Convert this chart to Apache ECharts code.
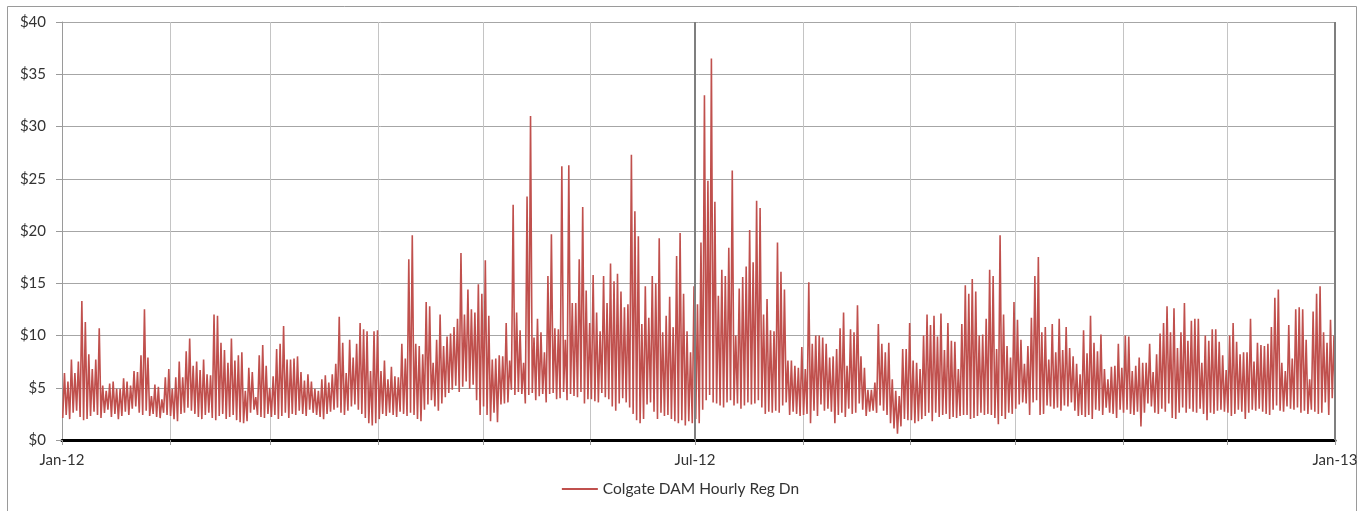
<!DOCTYPE html>
<html>
<head>
<meta charset="utf-8">
<script src="https://cdn.jsdelivr.net/npm/echarts@6/dist/echarts.min.js"></script>
<style>
html,body{margin:0;padding:0;background:#fff;}
#chart{width:1361px;height:511px;}
</style>
</head>
<body>
<div id="chart"></div>
<script>
// ---- Data: daily peak (high) and trough (low) of hourly price, $/MWh, 2012 ----
const hiJan = [6.4,5.6,7.7,6.4,7.5,13.3,11.3,8.2,6.8,7.7,10.7,5.2,4.7,5.4,5.6,4.9,4.9,5.9,5.6,5.2,6.6,6.5,8.1,12.5,7.9,4.2,5.3,5.1,3.9,6.0,6.8];
const loJan = [2.1,2.4,2.0,2.6,2.8,2.2,1.9,2.0,2.3,2.7,2.4,2.1,2.6,2.9,2.2,2.5,2.0,2.3,2.7,2.4,3.0,3.2,2.6,2.4,2.8,2.3,2.5,2.2,2.1,2.6,2.4];
const hiFeb = [4.9,6.0,7.5,6.0,8.5,9.7,7.1,7.5,6.7,7.7,6.3,6.2,12.0,11.9,9.3,8.6,7.4,9.7,7.6,8.1,8.4,4.7,6.9,6.5,4.1,8.1,9.1,7.1,5.0];
const loFeb = [2.3,2.0,1.8,2.5,2.6,3.1,2.8,2.5,2.2,2.0,2.4,2.6,2.1,1.9,2.3,2.5,2.0,2.2,2.4,1.9,1.7,1.6,1.8,2.6,2.9,2.4,2.2,2.1,2.5];
const hiMar = [6.1,8.7,9.2,10.9,7.7,7.7,7.8,8.0,6.5,5.7,6.3,5.6,4.9,4.7,5.8,6.2,5.5,6.3,7.3,11.8,9.3,6.4,9.6,7.9,9.2,11.2,10.6,10.4,6.6,10.4,10.5];
const loMar = [2.2,2.4,2.0,2.3,2.6,2.1,2.5,2.4,2.8,2.5,2.3,2.9,2.6,2.4,2.2,2.0,2.5,2.7,2.9,3.1,2.6,2.4,2.8,3.2,3.4,2.9,2.5,2.1,1.6,1.4,1.6];
const hiApr = [6.6,7.6,5.8,7.0,6.1,6.0,9.2,7.8,17.3,19.6,9.2,9.0,8.2,13.2,12.8,7.4,9.6,12.0,9.0,9.9,10.2,10.8,11.6,17.9,12.0,14.4,12.5,12.2,14.9,14.0];
const loApr = [2.0,2.5,2.3,2.6,2.4,2.2,2.7,2.5,2.3,2.6,2.4,2.0,1.8,2.9,3.4,3.8,3.2,2.8,3.5,4.1,4.5,4.8,5.2,4.6,5.1,5.6,4.9,5.3,3.8,2.4];
const hiMay = [17.2,11.9,7.7,7.8,8.1,8.0,11.2,7.6,22.5,12.2,10.5,7.4,23.3,31.0,9.8,11.6,10.3,8.4,15.7,19.7,10.7,10.6,26.2,9.6,26.3,13.1,13.1,17.3,22.3,14.3,11.2];
const loMay = [3.2,2.4,1.8,2.6,1.7,3.4,3.5,3.6,4.8,4.3,4.6,4.4,3.5,4.3,4.5,3.8,4.2,4.4,3.6,4.4,4.5,3.9,4.0,4.6,3.8,4.4,4.2,4.1,4.6,3.5,3.9];
const hiJun = [15.8,12.2,10.4,15.7,13.1,16.9,15.2,15.9,14.2,12.7,13.0,27.3,21.9,19.5,11.1,14.7,11.7,15.7,15.0,19.3,10.3,11.9,13.7,10.8,17.6,19.8,14.0,10.4,8.4,14.7];
const loJun = [3.9,3.7,3.6,4.5,4.1,3.9,3.2,2.8,3.5,4.0,3.6,3.1,2.5,1.9,1.6,2.0,3.4,3.6,2.7,2.0,2.6,2.3,2.4,2.0,1.8,1.6,1.9,1.4,1.8,1.6];
const hiJul = [13.0,18.9,33.0,24.8,36.5,22.8,13.8,16.3,15.7,18.4,25.8,10.0,14.5,15.6,16.6,20.1,17.0,22.9,22.2,12.0,13.5,10.5,10.4,18.9,16.1,14.4,7.6,7.6,7.1,6.9,8.9];
const loJul = [2.0,1.6,2.9,3.8,4.3,3.6,3.5,3.3,3.1,3.6,3.8,3.3,3.5,3.0,3.3,3.6,3.4,3.5,3.8,3.1,2.5,2.7,2.6,2.8,2.6,3.3,3.6,2.4,2.7,2.5,2.3];
const hiAug = [6.8,15.1,9.2,10.0,10.0,9.8,9.2,7.9,8.0,8.7,10.7,12.2,7.1,10.6,10.3,12.9,8.0,6.9,4.8,4.8,5.5,11.1,9.2,8.4,9.3,5.8,4.7,4.2,8.7,8.7,11.2];
const loAug = [2.4,2.5,1.6,2.8,2.3,3.4,2.8,3.0,2.7,1.6,2.4,2.6,2.2,3.0,2.5,2.6,3.5,2.9,2.3,2.7,2.8,2.6,3.3,2.8,2.4,1.6,1.1,0.6,1.3,2.0,1.9];
const hiSep = [7.6,7.4,6.8,10.0,12.0,11.0,11.9,9.9,12.1,8.6,11.2,9.5,9.4,6.8,11.1,14.8,14.0,15.4,14.2,10.0,10.1,11.6,16.3,15.7,8.7,19.6,12.0,9.0,7.9,13.2];
const loSep = [1.9,1.6,1.8,2.0,2.3,2.6,1.8,2.6,2.2,2.4,2.5,2.0,2.2,2.1,2.3,2.4,2.4,2.0,2.1,2.3,2.6,2.4,2.5,2.4,2.1,1.5,2.3,2.0,2.6,2.5];
const hiOct = [11.5,9.6,7.3,9.0,11.7,15.7,17.5,10.3,10.8,7.7,11.1,8.4,11.6,8.6,10.8,8.8,8.0,7.3,6.3,10.5,8.3,11.9,9.3,8.5,10.1,6.8,5.8,7.0,7.1,9.2,6.9];
const loOct = [3.0,3.4,3.6,3.5,2.4,3.6,3.8,2.4,2.5,3.3,3.2,3.0,3.1,2.8,3.3,3.2,3.6,2.8,2.3,2.4,2.2,2.4,2.0,2.9,2.8,2.4,3.1,2.6,2.5,2.1,2.9];
const hiNov = [10.0,9.9,6.6,7.1,7.9,7.4,7.4,9.2,6.5,8.2,10.2,11.2,12.8,10.3,12.6,8.8,10.3,13.1,9.5,11.4,11.6,11.6,7.4,10.0,9.5,10.6,10.6,9.4,8.1,6.7];
const loNov = [2.6,2.9,2.5,2.4,2.7,1.3,2.6,3.5,3.2,2.6,2.5,3.0,2.7,3.5,2.1,2.0,2.6,3.1,2.6,3.0,2.7,2.6,3.0,2.5,1.9,2.6,2.5,2.8,2.9,2.7];
const hiDec = [10.0,11.2,9.4,8.2,8.4,8.4,11.6,7.5,9.3,9.1,9.0,9.2,10.8,13.6,14.4,7.4,6.6,11.0,7.8,12.5,12.7,12.5,9.6,5.8,12.3,14.0,14.7,10.3,9.3,11.5,10.0];
const loDec = [2.6,2.3,2.5,2.9,2.7,2.0,2.6,2.9,2.8,3.0,2.7,2.5,2.4,2.9,3.3,2.8,2.7,3.2,3.0,2.9,3.1,2.6,2.8,2.5,2.9,2.7,2.5,2.6,3.6,2.4,4.0];
const endValue = 5.0; // first hour of Jan 1, 2013

const seriesName = 'Colgate DAM Hourly Reg Dn';
const xLabelMonths = [0, 6]; // months that get a label (Jan, Jul)
const monthNames = ['Jan','Feb','Mar','Apr','May','Jun','Jul','Aug','Sep','Oct','Nov','Dec'];

// ---- build the series ----
const highs = [].concat(hiJan,hiFeb,hiMar,hiApr,hiMay,hiJun,hiJul,hiAug,hiSep,hiOct,hiNov,hiDec);
const lows  = [].concat(loJan,loFeb,loMar,loApr,loMay,loJun,loJul,loAug,loSep,loOct,loNov,loDec);
const data = [];
for (let i = 0; i < highs.length; i++) {
  data.push([new Date(2012, 0, 1 + i, 5).getTime(), lows[i]]);
  data.push([new Date(2012, 0, 1 + i, 17).getTime(), highs[i]]);
}
data.push([new Date(2013, 0, 1, 0).getTime(), endValue]);

const tMin = new Date(2012, 0, 1).getTime();
const tMax = new Date(2013, 0, 1).getTime();
const DAY = 86400000;
const FONT = 'Lato, "Open Sans", sans-serif';

const chart = echarts.init(document.getElementById('chart'), null, {renderer: 'canvas'});
chart.setOption({
  animation: false,
  backgroundColor: '#ffffff',
  textStyle: {fontFamily: FONT},
  graphic: [{
    type: 'rect', silent: true, z: -10,
    shape: {x: 7.5, y: 6.5, width: 1349, height: 530},
    style: {fill: 'none', stroke: '#9a9a9a', lineWidth: 1}
  }],
  grid: {left: 62, right: 26, top: 22, bottom: 71, containLabel: false},
  legend: {
    data: [seriesName],
    bottom: 9,
    left: 'center',
    icon: 'rect',
    itemWidth: 36,
    itemHeight: 2,
    itemGap: 6,
    textStyle: {fontSize: 15.5, color: '#333', fontFamily: FONT}
  },
  xAxis: {
    type: 'time',
    min: tMin,
    max: tMax,
    minInterval: 28 * DAY,
    maxInterval: 31 * DAY,
    splitNumber: 12,
    axisLine: {show: true, onZero: false, lineStyle: {color: '#000', width: 3}},
    axisTick: {show: true, length: 5, lineStyle: {color: '#9a9a9a'}},
    splitLine: {show: true, lineStyle: {color: '#c4c4c4', width: 1}},
    axisLabel: {
      show: true,
      margin: 13,
      fontSize: 15,
      color: '#333',
      showMinLabel: true,
      showMaxLabel: true,
      hideOverlap: false,
      formatter: function (value) {
        const d = new Date(value);
        if (d.getDate() !== 1 || xLabelMonths.indexOf(d.getMonth()) < 0) return '';
        return monthNames[d.getMonth()] + '-' + String(d.getFullYear()).slice(2);
      }
    }
  },
  yAxis: {
    type: 'value',
    min: 0,
    max: 40,
    interval: 5,
    axisLine: {show: true, lineStyle: {color: '#9a9a9a', width: 1}},
    axisTick: {show: true, length: 6, lineStyle: {color: '#9a9a9a'}},
    splitLine: {show: true, lineStyle: {color: '#a6a6a6', width: 1}},
    axisLabel: {
      margin: 16,
      fontSize: 15,
      color: '#333',
      formatter: function (v) { return '$' + v; }
    }
  },
  series: [
    {
      name: 'guides',
      type: 'line',
      data: [],
      z: 1,
      silent: true,
      markLine: {
        silent: true,
        symbol: ['none', 'none'],
        label: {show: false},
        lineStyle: {color: '#7f7f7f', width: 2, type: 'solid'},
        data: [{xAxis: new Date(2012, 6, 1).getTime()}, {xAxis: tMax}]
      }
    },
    {
      name: seriesName,
      type: 'line',
      data: data,
      z: 3,
      showSymbol: false,
      symbol: 'none',
      sampling: null,
      lineStyle: {color: '#c0504d', width: 1.6},
      itemStyle: {color: '#c0504d'}
    }
  ]
});
</script>
</body>
</html>
